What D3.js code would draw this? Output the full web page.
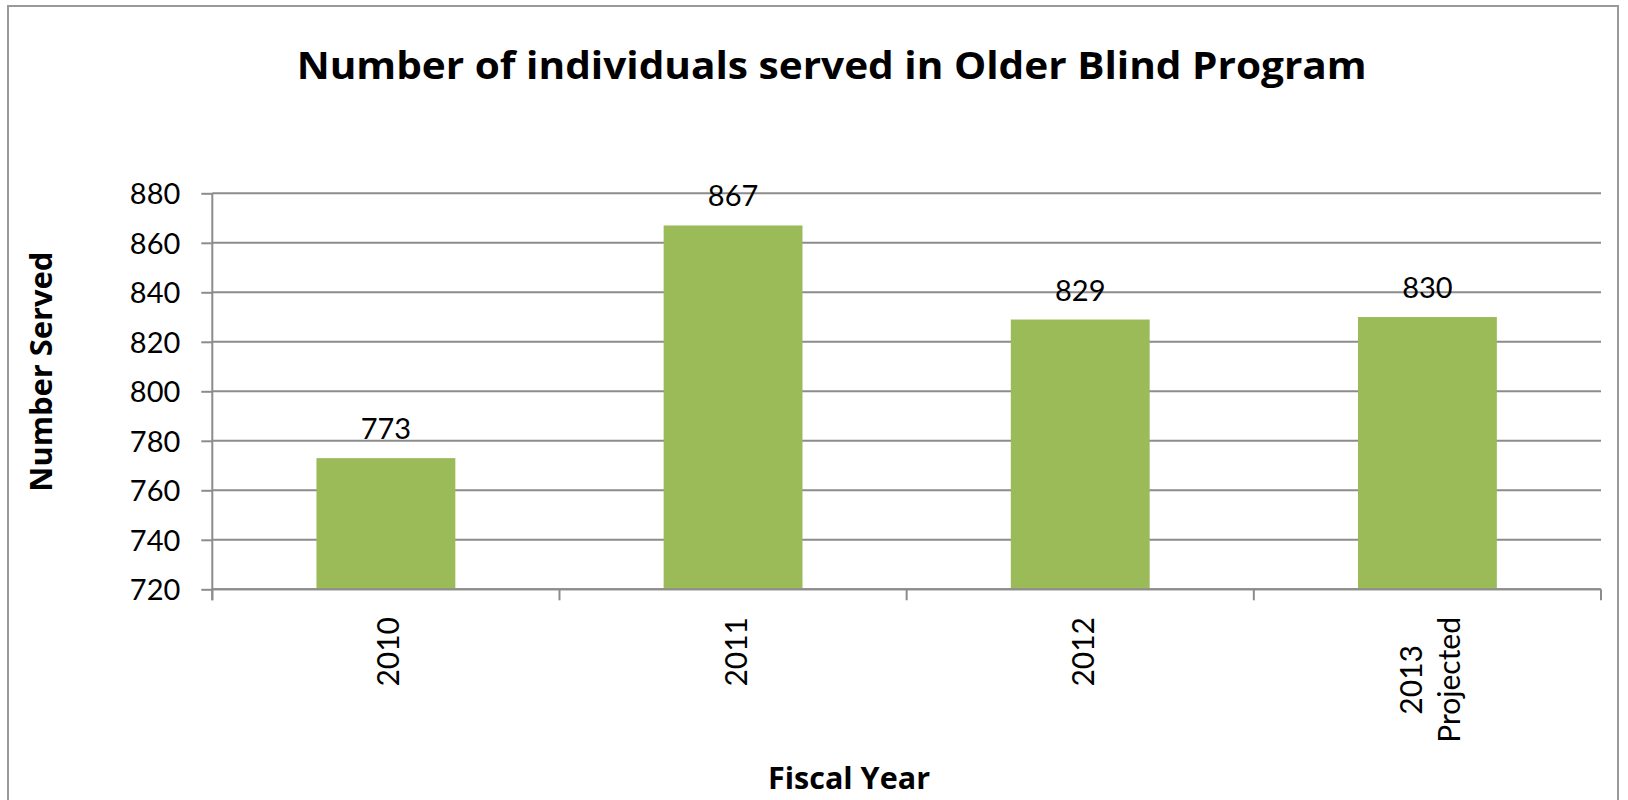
<!DOCTYPE html>
<html>
<head>
<meta charset="utf-8">
<script src="https://cdn.jsdelivr.net/npm/d3@7"></script>
<style>
  html, body { margin: 0; padding: 0; background: #fff; }
  svg { display: block; font-family: Lato, "Open Sans", sans-serif; }
  .bold { font-family: "Open Sans", Lato, sans-serif; font-weight: bold; }
</style>
</head>
<body>
<div id="chart"></div>
<script>
// data
const categories = ["2010", "2011", "2012", "2013\nProjected"];
const served = [773, 867, 829, 830];
const yTicks = [720, 740, 760, 780, 800, 820, 840, 860, 880];

const title = "Number of individuals served in Older Blind Program";
const xTitle = "Fiscal Year";
const yTitle = "Number Served";

const W = 1628, H = 800;
const plot = { left: 212.3, top: 193.3, right: 1601, bottom: 589.3 };
const gridColor = "#8c8c8c";
const barColor = "#9bbb59";

const svg = d3.select("#chart").append("svg")
    .attr("width", W)
    .attr("height", H);

// chart area border (bottom edge runs off the page)
svg.append("rect")
    .attr("x", 8).attr("y", 6)
    .attr("width", 1610).attr("height", 820)
    .attr("fill", "none")
    .attr("stroke", "#9a9a9a")
    .attr("stroke-width", 2);

const x = d3.scaleBand()
    .domain(categories)
    .range([plot.left, plot.right])
    .paddingInner(0.6)
    .paddingOuter(0.3);

const y = d3.scaleLinear()
    .domain([yTicks[0], yTicks[yTicks.length - 1]])
    .range([plot.bottom, plot.top]);

// gridlines
svg.append("g")
    .selectAll("line")
    .data(yTicks)
    .join("line")
    .attr("x1", plot.left).attr("x2", plot.right)
    .attr("y1", d => y(d)).attr("y2", d => y(d))
    .attr("stroke", gridColor)
    .attr("stroke-width", 2);

// bars
svg.append("g")
    .selectAll("rect")
    .data(served)
    .join("rect")
    .attr("x", (d, i) => x(categories[i]))
    .attr("y", d => y(d))
    .attr("width", x.bandwidth())
    .attr("height", d => y(yTicks[0]) - y(d))
    .attr("fill", barColor);

// value labels
svg.append("g")
    .selectAll("text")
    .data(served)
    .join("text")
    .attr("x", (d, i) => x(categories[i]) + x.bandwidth() / 2)
    .attr("y", d => y(d) - 19)
    .attr("text-anchor", "middle")
    .attr("font-size", 29)
    .attr("fill", "#000")
    .text(d => d);

// y axis
const yAxis = svg.append("g")
    .attr("transform", `translate(${plot.left},0)`)
    .call(d3.axisLeft(y).tickValues(yTicks).tickSize(11).tickPadding(21).tickSizeOuter(0));
yAxis.select(".domain").remove();
yAxis.selectAll(".tick line").attr("stroke", gridColor).attr("stroke-width", 2);
yAxis.selectAll(".tick text")
    .attr("font-size", 29)
    .attr("font-family", "Lato, 'Open Sans', sans-serif")
    .attr("fill", "#000")
    .attr("dy", null)
    .attr("y", 10.5);
yAxis.append("line")
    .attr("x1", 0).attr("x2", 0)
    .attr("y1", plot.top).attr("y2", plot.bottom + 11)
    .attr("stroke", gridColor)
    .attr("stroke-width", 2);

// x axis line with ticks at category boundaries
const bounds = categories.map((c, i) => x.range()[0] + i * x.step()).concat([x.range()[1]]);
const xAxis = svg.append("g");
xAxis.append("line")
    .attr("x1", plot.left).attr("x2", plot.right)
    .attr("y1", plot.bottom).attr("y2", plot.bottom)
    .attr("stroke", gridColor)
    .attr("stroke-width", 2);
xAxis.selectAll("line.tick")
    .data(bounds)
    .join("line")
    .attr("class", "tick")
    .attr("x1", d => d).attr("x2", d => d)
    .attr("y1", plot.bottom).attr("y2", plot.bottom + 11)
    .attr("stroke", gridColor)
    .attr("stroke-width", 2);

// rotated category labels, top-aligned, lines centred on each other
const lineGap = 38;
const labelTop = 617;
xAxis.selectAll("g.label")
    .data(categories)
    .join("g")
    .attr("class", "label")
    .each(function (c) {
        const lines = c.split("\n");
        const cx = x(c) + x.bandwidth() / 2;
        const g = d3.select(this);
        const texts = g.selectAll("text")
            .data(lines)
            .join("text")
            .attr("font-size", 30)
            .attr("fill", "#000")
            .attr("text-anchor", "middle")
            .text(d => d);
        const maxLen = d3.max(texts.nodes(), n => n.getComputedTextLength());
        const cy = labelTop + maxLen / 2;
        texts.attr("transform", (d, i) => {
            const bx = cx + 13.5 + (i - (lines.length - 1) / 2) * lineGap;
            return `translate(${bx},${cy}) rotate(-90)`;
        });
    });

// titles
function fitText(sel, target) {
    const len = sel.node().getComputedTextLength();
    if (Math.abs(len - target) / target > 0.03) {
        sel.attr("textLength", target).attr("lengthAdjust", "spacingAndGlyphs");
    }
}

const t = svg.append("text")
    .attr("class", "bold")
    .attr("x", 831.7).attr("y", 79.3)
    .attr("text-anchor", "middle")
    .attr("font-size", 37.5)
    .text(title);
fitText(t, 1070);

const xt = svg.append("text")
    .attr("class", "bold")
    .attr("x", 849).attr("y", 789.3)
    .attr("text-anchor", "middle")
    .attr("font-size", 29.5)
    .text(xTitle);
fitText(xt, 162);

const yt = svg.append("text")
    .attr("class", "bold")
    .attr("transform", "translate(51.5,371.7) rotate(-90)")
    .attr("text-anchor", "middle")
    .attr("font-size", 29.5)
    .text(yTitle);
fitText(yt, 240);
</script>
</body>
</html>
